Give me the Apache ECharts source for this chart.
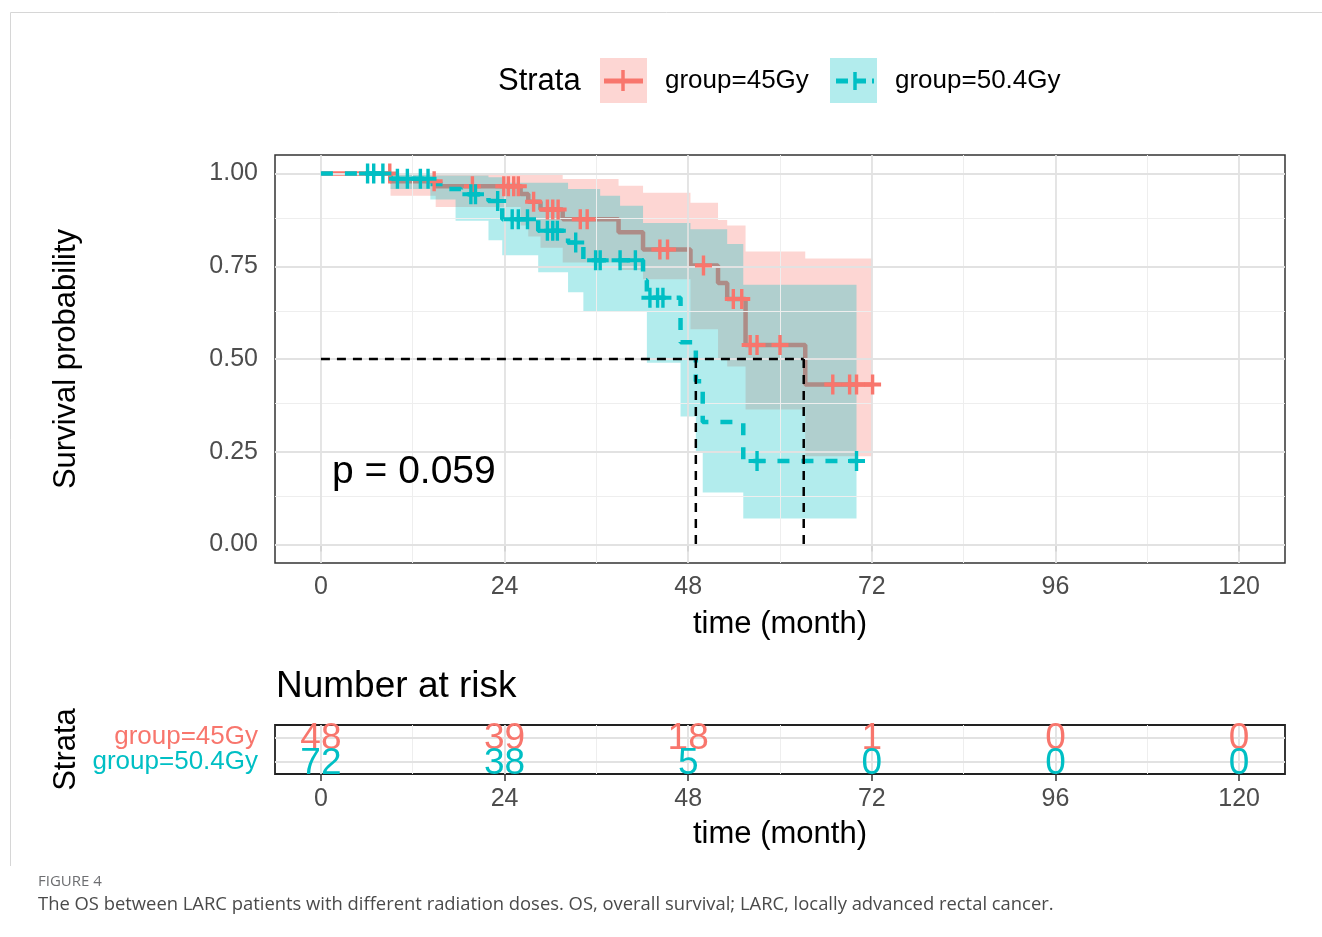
<!DOCTYPE html>
<html>
<head>
<meta charset="utf-8">
<script src="https://cdn.jsdelivr.net/npm/echarts@6/dist/echarts.min.js"></script>
<style>
  html, body { margin: 0; padding: 0; background: #fff; }
  #chart { width: 1322px; height: 937px; }
</style>
</head>
<body>
<div id="chart"></div>
<script>
const FONT = '"Liberation Sans", Arial, sans-serif';
const CAPTION_FONT = '"Open Sans", "Noto Sans", sans-serif';
const RED = '#F8766D';
const TEAL = '#00BFC4';
const RED_FILL = 'rgba(248,118,109,0.3)';
const TEAL_FILL = 'rgba(0,191,196,0.3)';

const groups = ['group=45Gy', 'group=50.4Gy'];
const timeTicks = [0, 24, 48, 72, 96, 120];
const probTicks = [0, 0.25, 0.5, 0.75, 1];

// KM steps: time of the event, survival after it (last point = end of follow-up)
const time45 = [0, 9.1, 15.0, 26.1, 27.1, 28.7, 31.6, 38.9, 42.1, 48.3, 51.9, 53.1, 55.5, 63.3, 72.1];
const surv45 = [1, 0.979, 0.966, 0.945, 0.924, 0.903, 0.877, 0.842, 0.795, 0.752, 0.705, 0.662, 0.538, 0.431, 0.431];
const time50 = [0, 9.1, 14.3, 16.5, 18.3, 21.9, 23.7, 28.4, 32.3, 34.3, 42.1, 42.6, 47.0, 49.0, 49.9, 55.2, 70.0];
const surv50 = [1, 0.986, 0.972, 0.958, 0.944, 0.926, 0.877, 0.846, 0.814, 0.766, 0.712, 0.665, 0.545, 0.44, 0.33, 0.225, 0.225];

// censored times
const cens45 = [9.0, 14.8, 19.8, 23.9, 24.5, 25.2, 25.8, 27.8, 29.6, 30.3, 31.0, 33.9, 34.8, 44.3, 45.3, 50.0, 53.9, 55.0, 56.1, 57.0, 60.0, 66.9, 69.1, 70.0, 72.1];
const cens50 = [6.1, 6.9, 8.1, 10.0, 11.3, 13.0, 14.0, 19.6, 20.2, 23.1, 25.0, 25.8, 27.0, 29.6, 30.3, 30.9, 33.3, 35.9, 36.5, 39.1, 41.1, 43.0, 44.0, 44.7, 57.0, 70.0];

// confidence bands
const band45Time = [0, 9.1, 15.0, 26.1, 27.1, 28.7, 31.6, 38.9, 42.1, 48.3, 51.9, 53.1, 55.5, 63.3, 72.1];
const band45Low  = [1, 0.94, 0.91, 0.86, 0.83, 0.80, 0.76, 0.74, 0.715, 0.58, 0.50, 0.48, 0.364, 0.238, 0.238];
const band45High = [1, 1, 1, 1, 1, 1, 0.985, 0.967, 0.948, 0.921, 0.875, 0.86, 0.79, 0.771, 0.771];
const band50Time = [0, 9.1, 14.3, 17.6, 21.9, 23.7, 28.4, 32.3, 34.3, 36.5, 39.1, 42.1, 42.6, 47.0, 48.3, 49.0, 49.9, 53.1, 55.2, 70.0];
const band50Low  = [1, 0.958, 0.93, 0.873, 0.82, 0.78, 0.734, 0.68, 0.627, 0.627, 0.627, 0.627, 0.49, 0.345, 0.345, 0.25, 0.14, 0.14, 0.07, 0.07];
const band50High = [1, 1, 0.995, 0.995, 0.99, 0.975, 0.975, 0.958, 0.958, 0.94, 0.913, 0.867, 0.867, 0.867, 0.85, 0.85, 0.85, 0.81, 0.70, 0.70];

const medianTimes = [49.0, 63.1];
const medianLevel = 0.5;
const pValue = 'p = 0.059';

// number at risk
const riskTimes = [0, 24, 48, 72, 96, 120];
const risk45 = [48, 39, 18, 1, 0, 0];
const risk50 = [72, 38, 5, 0, 0, 0];

const PLUS = 'path://M-2,-10H2V-2H10V2H2V10H-2V2H-10V-2H-2Z';

function survAt(times, surv, t) {
  let s = surv[0];
  for (let i = 0; i < times.length; i++) {
    if (times[i] <= t) s = surv[i];
  }
  return s;
}

function pairs(xs, ys) {
  return xs.map((x, i) => [x, ys[i]]);
}

// step-shaped CI polygon, corners mapped through the axes
function bandSeries(times, low, high, color, z) {
  return {
    type: 'custom', z: z, silent: true, data: [[times[0], high[0]]],
    renderItem: (params, api) => {
      const pts = [];
      for (let i = 0; i < times.length - 1; i++) {
        pts.push(api.coord([times[i], high[i]]));
        pts.push(api.coord([times[i + 1], high[i]]));
      }
      for (let i = times.length - 2; i >= 0; i--) {
        pts.push(api.coord([times[i + 1], low[i]]));
        pts.push(api.coord([times[i], low[i]]));
      }
      return { type: 'polygon', shape: { points: pts }, style: { fill: color } };
    }
  };
}

function gridMarks(xMajor, xMinor, yMajor, yMinor) {
  const major = { color: '#e2e2e2', width: 1.8, type: 'solid' };
  const minor = { color: '#eeeeee', width: 1, type: 'solid' };
  const out = [];
  xMinor.forEach(v => out.push({ xAxis: v, lineStyle: minor }));
  yMinor.forEach(v => out.push({ yAxis: v, lineStyle: minor }));
  xMajor.forEach(v => out.push({ xAxis: v, lineStyle: major }));
  yMajor.forEach(v => out.push({ yAxis: v, lineStyle: major }));
  return out;
}

const minorTime = [12, 36, 60, 84, 108];
const minorProb = [0.125, 0.375, 0.625, 0.875];

const tickStyle = { show: true, length: 7, lineStyle: { color: '#333', width: 1.5 } };

function riskSeries(group, counts, color) {
  return {
    type: 'scatter', xAxisIndex: 1, yAxisIndex: 1, z: 5, silent: true,
    symbol: 'circle', symbolSize: 1, itemStyle: { color: 'transparent', opacity: 1 },
    data: riskTimes.map((t, i) => [t, group, counts[i]]),
    label: { show: true, position: 'inside', offset: [0, 2], formatter: p => String(p.value[2]),
      color: color, opacity: 1, textBorderWidth: 0, fontSize: 37, fontFamily: FONT }
  };
}

const chart = echarts.init(document.getElementById('chart'), null, { renderer: 'canvas' });

const option = {
  animation: false,
  backgroundColor: '#fff',
  textStyle: { fontFamily: FONT },
  grid: [
    { left: 275, top: 155, width: 1010, height: 408, show: true, borderColor: '#333', borderWidth: 1.5, backgroundColor: 'transparent' },
    { left: 275, top: 725, width: 1010, height: 49, show: true, borderColor: '#222', borderWidth: 1.8, backgroundColor: 'transparent' }
  ],
  xAxis: [
    {
      type: 'value', gridIndex: 0, min: -6, max: 126,
      axisLine: { show: false }, splitLine: { show: false },
      axisTick: Object.assign({ customValues: timeTicks }, tickStyle),
      axisLabel: { customValues: timeTicks, fontSize: 25, color: '#4d4d4d', margin: 12, fontFamily: FONT },
      name: 'time (month)', nameLocation: 'middle', nameGap: 46,
      nameTextStyle: { fontSize: 31, color: '#000', fontFamily: FONT }
    },
    {
      type: 'value', gridIndex: 1, min: -6, max: 126,
      axisLine: { show: false }, splitLine: { show: false },
      axisTick: Object.assign({ customValues: timeTicks }, tickStyle),
      axisLabel: { customValues: timeTicks, fontSize: 25, color: '#4d4d4d', margin: 13, fontFamily: FONT },
      name: 'time (month)', nameLocation: 'middle', nameGap: 45,
      nameTextStyle: { fontSize: 31, color: '#000', fontFamily: FONT }
    }
  ],
  yAxis: [
    {
      type: 'value', gridIndex: 0, min: -0.05, max: 1.05,
      axisLine: { show: false }, splitLine: { show: false },
      axisTick: Object.assign({ customValues: probTicks }, tickStyle),
      axisLabel: { customValues: probTicks, fontSize: 25, color: '#4d4d4d', margin: 17, fontFamily: FONT,
        formatter: v => Number(v).toFixed(2) },
      name: 'Survival probability', nameLocation: 'middle', nameGap: 193, nameRotate: 90,
      nameTextStyle: { fontSize: 31, color: '#000', fontFamily: FONT }
    },
    {
      type: 'category', gridIndex: 1, data: [groups[1], groups[0]],
      axisLine: { show: false }, splitLine: { show: false },
      axisTick: Object.assign({ alignWithLabel: true, interval: 0 }, tickStyle),
      axisLabel: {
        interval: 0, hideOverlap: false, fontSize: 26, margin: 17, fontFamily: FONT,
        formatter: v => (v === groups[0] ? '{a|' : '{b|') + v + '}',
        rich: {
          a: { color: RED, fontSize: 26, fontFamily: FONT },
          b: { color: TEAL, fontSize: 26, fontFamily: FONT }
        }
      },
      name: 'Strata', nameLocation: 'middle', nameGap: 193, nameRotate: 90,
      nameTextStyle: { fontSize: 31, color: '#000', fontFamily: FONT }
    }
  ],
  series: [
    // panel grid lines
    {
      type: 'line', xAxisIndex: 0, yAxisIndex: 0, data: [], z: 1, silent: true,
      markLine: { silent: true, symbol: ['none', 'none'], label: { show: false },
        data: gridMarks(timeTicks, minorTime, probTicks, minorProb) }
    },
    {
      type: 'line', xAxisIndex: 1, yAxisIndex: 1, data: [], z: 1, silent: true,
      markLine: { silent: true, symbol: ['none', 'none'], label: { show: false },
        data: gridMarks(timeTicks, minorTime, [groups[0], groups[1]], []) }
    },
    bandSeries(band45Time, band45Low, band45High, RED_FILL, 2),
    {
      type: 'line', step: 'end', symbol: 'none', z: 3, silent: true,
      data: pairs(time45, surv45),
      lineStyle: { color: RED, width: 4.5 }
    },
    bandSeries(band50Time, band50Low, band50High, TEAL_FILL, 4),
    {
      type: 'line', step: 'end', symbol: 'none', z: 5, silent: true,
      data: pairs(time50, surv50),
      lineStyle: { color: TEAL, width: 4.5, type: [12, 12] }
    },
    // median lines
    {
      type: 'line', symbol: 'none', z: 6, silent: true,
      data: [[0, medianLevel], [Math.max(...medianTimes), medianLevel]],
      lineStyle: { color: '#000', width: 2.5, type: [9, 7] }
    },
    ...medianTimes.map(t => ({
      type: 'line', symbol: 'none', z: 6, silent: true,
      data: [[t, medianLevel], [t, 0]],
      lineStyle: { color: '#000', width: 2.5, type: [9, 7] }
    })),
    // censor marks
    {
      type: 'scatter', z: 7, silent: true, symbol: PLUS, symbolSize: [17, 20],
      data: cens45.map(t => [t, survAt(time45, surv45, t)]),
      itemStyle: { color: RED, opacity: 1 }
    },
    {
      type: 'scatter', z: 8, silent: true, symbol: PLUS, symbolSize: [17, 20],
      data: cens50.map(t => [t, survAt(time50, surv50, t)]),
      itemStyle: { color: TEAL, opacity: 1 }
    },
    // risk table
    riskSeries(groups[0], risk45, RED),
    riskSeries(groups[1], risk50, TEAL)
  ],
  graphic: [
    { type: 'polyline', silent: true, shape: { points: [[10.5, 866], [10.5, 12.5], [1322, 12.5]] },
      style: { stroke: '#d6d6d6', lineWidth: 1, fill: null } },
    // legend
    { type: 'text', x: 498, y: 81, style: { text: 'Strata', fontSize: 31, fontFamily: FONT, fill: '#000', verticalAlign: 'middle' } },
    { type: 'rect', shape: { x: 600, y: 58, width: 47, height: 45 }, style: { fill: RED_FILL } },
    { type: 'line', shape: { x1: 604, y1: 81, x2: 643, y2: 81 }, style: { stroke: RED, lineWidth: 5 } },
    { type: 'line', shape: { x1: 623, y1: 70, x2: 623, y2: 91 }, style: { stroke: RED, lineWidth: 3.5 } },
    { type: 'text', x: 665, y: 81, style: { text: groups[0], fontSize: 26, fontFamily: FONT, fill: '#000', verticalAlign: 'middle' } },
    { type: 'rect', shape: { x: 830, y: 58, width: 47, height: 45 }, style: { fill: TEAL_FILL } },
    { type: 'line', shape: { x1: 836, y1: 81, x2: 874, y2: 81 }, style: { stroke: TEAL, lineWidth: 5, lineDash: [12, 6] } },
    { type: 'line', shape: { x1: 855, y1: 72, x2: 855, y2: 90 }, style: { stroke: TEAL, lineWidth: 3.5 } },
    { type: 'text', x: 895, y: 81, style: { text: groups[1], fontSize: 26, fontFamily: FONT, fill: '#000', verticalAlign: 'middle' } },
    // p value
    { type: 'text', x: 332, y: 472, z: 10, style: { text: pValue, fontSize: 39, fontFamily: FONT, fill: '#000', verticalAlign: 'middle' } },
    // risk table title
    { type: 'text', x: 276, y: 687, style: { text: 'Number at risk', fontSize: 37, fontFamily: FONT, fill: '#000', verticalAlign: 'middle' } },
    // caption
    { type: 'text', x: 38, y: 882, style: { text: 'FIGURE 4', fontSize: 15, fontFamily: CAPTION_FONT, fill: '#6d6e71', verticalAlign: 'middle' } },
    { type: 'text', x: 38, y: 905, style: { text: 'The OS between LARC patients with different radiation doses. OS, overall survival; LARC, locally advanced rectal cancer.', fontSize: 18.4, fontFamily: CAPTION_FONT, fill: '#4a4a4a', verticalAlign: 'middle' } }
  ]
};

chart.setOption(option);
</script>
</body>
</html>
